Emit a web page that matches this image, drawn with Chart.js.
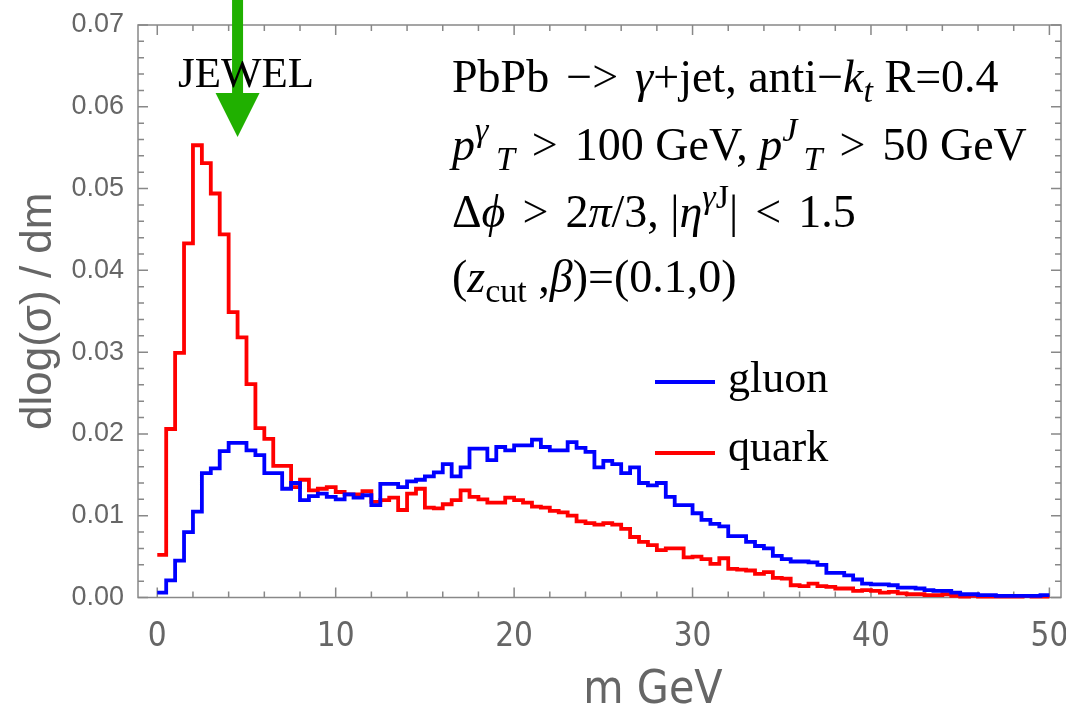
<!DOCTYPE html>
<html><head><meta charset="utf-8">
<script src="https://cdn.jsdelivr.net/npm/chart.js@4.4.0/dist/chart.umd.min.js"></script>
<style>
html,body{margin:0;padding:0;background:#fff;}
#wrap{position:relative;width:1066px;height:705px;overflow:hidden;background:#fff;}
#c{position:absolute;left:0;top:0;}
.ann{position:absolute;font-family:"Liberation Serif","Times New Roman",serif;color:#000;white-space:nowrap;line-height:1;font-size:46px;}
.ann i{font-style:italic;}
.sp{font-size:0.74em;position:relative;top:-0.55em;}
.sb{font-size:0.74em;position:relative;top:0.3em;}
.op{margin:0 0.12em;}
.leg{position:absolute;height:4px;width:60px;}
.axt{position:absolute;font-family:"DejaVu Sans Condensed","Liberation Sans",Arial,sans-serif;color:#666;font-size:46px;line-height:1;white-space:nowrap;transform:translateX(-50%);}
</style></head>
<body><div id="wrap"><canvas id="c" width="1066" height="705"></canvas>
<div class="ann" style="left:178px;top:51px;font-size:43px;">JEWEL</div>
<div class="ann" style="left:452px;top:54px;">PbPb <span class="op">−&gt;</span> <i>γ</i>+jet, anti−<i>k</i><span class="sb"><i>t</i></span> R=0.4</div>
<div class="ann" style="left:452px;top:122px;"><i>p</i><span class="sp"><i>γ</i></span><span class="sb" style="margin-left:0.22em"><i>T</i></span> <span class="op">&gt;</span> 100 GeV, <i>p</i><span class="sp"><i>J</i></span><span class="sb" style="margin-left:0.18em"><i>T</i></span> <span class="op">&gt;</span> 50 GeV</div>
<div class="ann" style="left:452px;top:189px;">Δ<i>ϕ</i> <span class="op">&gt;</span> 2<i>π</i>/3, |<i>η</i><span class="sp"><i>γ</i>J</span>| <span class="op">&lt;</span> 1.5</div>
<div class="ann" style="left:452px;top:254px;">(<i>z</i><span class="sb">cut</span> ,<i>β</i>)=(0.1,0)</div>
<div class="leg" style="left:655px;top:380px;background:#0000ff;"></div>
<div class="ann" style="left:728px;top:356px;font-size:44px;">gluon</div>
<div class="leg" style="left:655px;top:451px;background:#ff0000;"></div>
<div class="ann" style="left:728px;top:425px;font-size:44px;">quark</div>
<div class="axt" style="left:653px;top:664px;">m GeV</div>
</div>
<script>
// ---- data ----
const binEdges = [0,0.5,1,1.5,2,2.5,3,3.5,4,4.5,5,5.5,6,6.5,7,7.5,8,8.5,9,9.5,10,10.5,11,11.5,12,12.5,13,13.5,14,14.5,15,15.5,16,16.5,17,17.5,18,18.5,19,19.5,20,20.5,21,21.5,22,22.5,23,23.5,24,24.5,25,25.5,26,26.5,27,27.5,28,28.5,29,29.5,30,30.5,31,31.5,32,32.5,33,33.5,34,34.5,35,35.5,36,36.5,37,37.5,38,38.5,39,39.5,40,40.5,41,41.5,42,42.5,43,43.5,44,44.5,45,45.5,46,46.5,47,47.5,48,48.5,49,49.5,50];
const gluon = [0.0006,0.0021,0.0045,0.0080,0.0105,0.0152,0.0158,0.0179,0.0189,0.0189,
0.0180,0.0174,0.0152,0.0152,0.0133,0.0140,0.0119,0.0124,0.0127,0.0123,
0.0120,0.0126,0.0122,0.0125,0.0113,0.0139,0.0139,0.0135,0.0142,0.0144,
0.0148,0.0153,0.0163,0.0148,0.0159,0.0182,0.0182,0.0168,0.0184,0.0180,
0.0186,0.0186,0.0193,0.0184,0.0180,0.0180,0.0190,0.0183,0.0178,0.0159,
0.0167,0.0163,0.0152,0.0159,0.0140,0.0137,0.0140,0.0123,0.0113,0.0113,
0.0103,0.0095,0.0090,0.0087,0.0075,0.0075,0.0068,0.0063,0.0060,0.0051,
0.0047,0.0044,0.0044,0.0043,0.0040,0.0030,0.0030,0.0027,0.0022,0.0017,
0.0016,0.0016,0.0015,0.0012,0.0012,0.0011,0.0009,0.0008,0.0008,0.0006,
0.0004,0.0004,0.0003,0.0003,0.0002,0.0002,0.0002,0.0002,0.0002,0.0003];
const quark = [0.0052,0.0206,0.0299,0.0433,0.0553,0.0531,0.0494,0.0444,0.0349,0.0318,
0.0261,0.0207,0.0194,0.0161,0.0161,0.0135,0.0144,0.0131,0.0133,0.0135,
0.0129,0.0126,0.0126,0.0130,0.0117,0.0119,0.0122,0.0107,0.0127,0.0133,
0.0110,0.0109,0.0114,0.0119,0.0131,0.0123,0.0120,0.0116,0.0116,0.0122,
0.0119,0.0116,0.0111,0.0110,0.0106,0.0104,0.0100,0.0093,0.0091,0.0089,
0.0091,0.0089,0.0084,0.0074,0.0068,0.0064,0.0058,0.0060,0.0060,0.0049,
0.0050,0.0047,0.0041,0.0048,0.0035,0.0034,0.0033,0.0029,0.0031,0.0024,
0.0023,0.0015,0.0014,0.0017,0.0014,0.0013,0.0011,0.0011,0.0008,0.0009,
0.0008,0.0006,0.0007,0.0005,0.0004,0.0004,0.0003,0.0003,0.0004,0.0002,
0.0001,0.0002,0.0001,0.0001,0.0001,0.0001,0.0001,0.0002,0.0001,0.0001];
const xTickLabels = [0,10,20,30,40,50];
const xMinorTicks = [0,2,4,6,8,10,12,14,16,18,20,22,24,26,28,30,32,34,36,38,40,42,44,46,48,50];
const yTickLabels = [0,0.01,0.02,0.03,0.04,0.05,0.06,0.07];
const yMinorTicks = [0.002,0.004,0.006,0.008,0.012,0.014,0.016,0.018,0.022,0.024,0.026,0.028,0.032,0.034,0.036,0.038,0.042,0.044,0.046,0.048,0.052,0.054,0.056,0.058,0.062,0.064,0.066,0.068];
const arrowAt = {x: 4.5, tip: 0.0563};

function histPoints(vals){
  const pts = vals.map((v,i)=>({x: binEdges[i], y: v}));
  pts.push({x: binEdges[vals.length], y: vals[vals.length-1]});
  return pts;
}

const GRAY = '#888888';
const frame = {
  id:'frame',
  beforeDatasetsDraw(chart){
    const {ctx, chartArea:a, scales:{x,y}} = chart;
    ctx.save();
    ctx.strokeStyle = GRAY; ctx.lineWidth = 1.5;
    ctx.strokeRect(a.left, a.top, a.right-a.left, a.bottom-a.top);
    ctx.beginPath();
    xMinorTicks.forEach(v=>{
      const p = x.getPixelForValue(v);
      const L = xTickLabels.includes(v) ? 10 : 6;
      ctx.moveTo(p, a.bottom); ctx.lineTo(p, a.bottom-L);
      ctx.moveTo(p, a.top); ctx.lineTo(p, a.top+L);
    });
    yTickLabels.concat(yMinorTicks).forEach(v=>{
      const p = y.getPixelForValue(v);
      const L = yTickLabels.includes(v) ? 10 : 6;
      ctx.moveTo(a.left, p); ctx.lineTo(a.left+L, p);
      ctx.moveTo(a.right, p); ctx.lineTo(a.right-L, p);
    });
    ctx.stroke();
    ctx.restore();
  },
  afterDraw(chart){
    const {ctx, scales:{x,y}} = chart;
    const cx = x.getPixelForValue(arrowAt.x);
    const tip = y.getPixelForValue(arrowAt.tip);
    ctx.save();
    ctx.fillStyle = '#20b000';
    ctx.fillRect(cx-5.5, 0, 11, tip-40);
    ctx.beginPath();
    ctx.moveTo(cx-22, tip-44); ctx.lineTo(cx+22, tip-44); ctx.lineTo(cx, tip); ctx.closePath();
    ctx.fill();
    ctx.restore();
  }
};

new Chart(document.getElementById('c'), {
  type:'line',
  data:{datasets:[
    {label:'gluon', data: histPoints(gluon), borderColor:'#0000ff', borderWidth:3.8, stepped:true, pointRadius:0, fill:false, clip:false},
    {label:'quark', data: histPoints(quark), borderColor:'#ff0000', borderWidth:3.8, stepped:true, pointRadius:0, fill:false, clip:false}
  ]},
  options:{
    responsive:false, animation:false, devicePixelRatio:1,
    layout:{padding:{left:0,right:5,top:25,bottom:0}},
    plugins:{legend:{display:false}, tooltip:{enabled:false}},
    scales:{
      x:{type:'linear', min:-1.08, max:50.65,
        grid:{display:false}, border:{display:false},
        afterBuildTicks(s){ s.ticks = xTickLabels.map(v=>({value:v})); },
        ticks:{color:'#666', padding:12, maxRotation:0, autoSkip:false,
          font:{family:'"DejaVu Sans Condensed","Liberation Sans",Arial,sans-serif', size:33},
          callback:v=>String(v)},
        afterFit(s){ s.height = 107.5; s.paddingLeft = 0; s.paddingRight = 0; }
      },
      y:{type:'linear', min:0, max:0.07,
        grid:{display:false}, border:{display:false},
        afterBuildTicks(s){ s.ticks = yTickLabels.map(v=>({value:v})); },
        ticks:{color:'#666', padding:6,
          font:{family:'"Liberation Sans",Arial,sans-serif', size:27},
          callback:v=>v.toFixed(2)},
        title:{display:true, text:'dlog(σ) / dm', color:'#666', padding:{top:12,bottom:0},
          font:{family:'"Liberation Sans",Arial,sans-serif', size:44}},
        afterFit(s){ s.width = 138; s.paddingTop = 0; s.paddingBottom = 0; }
      }
    }
  },
  plugins:[frame]
});
</script>
</body></html>
